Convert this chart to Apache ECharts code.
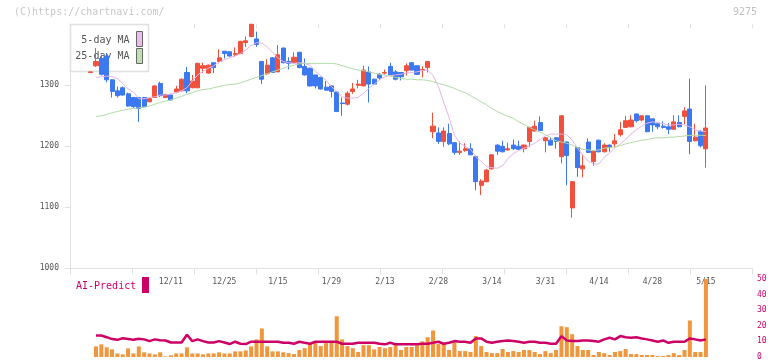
<!DOCTYPE html>
<html><head><meta charset="utf-8">
<script src="https://cdn.jsdelivr.net/npm/echarts@6/dist/echarts.min.js"></script>
<style>html,body{margin:0;padding:0;background:#fff}#c{width:772px;height:361px}</style>
</head><body><div id="c"></div>
<script>
const dates = ['11/20','11/21','11/22','11/25','11/26','11/27','11/28','11/29',
'12/2','12/3','12/4','12/5','12/6','12/9','12/10','12/11','12/12','12/13','12/16','12/17','12/18','12/19','12/20','12/23','12/24','12/25','12/26','12/27','12/30',
'1/6','1/7','1/8','1/9','1/10','1/14','1/15','1/16','1/17','1/20','1/21','1/22','1/23','1/24','1/27','1/28','1/29','1/30','1/31',
'2/3','2/4','2/5','2/6','2/7','2/10','2/12','2/13','2/14','2/17','2/18','2/19','2/20','2/21','2/25','2/26','2/27','2/28',
'3/3','3/4','3/5','3/6','3/7','3/10','3/11','3/12','3/13','3/14','3/17','3/18','3/19','3/21','3/24','3/25','3/26','3/27','3/28','3/31',
'4/1','4/2','4/3','4/4','4/7','4/8','4/9','4/10','4/11','4/14','4/15','4/16','4/17','4/18','4/21','4/22','4/23','4/24','4/25','4/28',
'4/30','5/1','5/2','5/7','5/8','5/9','5/12','5/13','5/14','5/15'];
const dateLabels = ['12/11','12/25','1/15','1/29','2/13','2/28','3/14','3/31','4/14','4/28','5/15'];
const priceTicks = [1000,1100,1200,1300];
// [open, close, low, high]
const ohlc = [
[1321,1322,1321,1322],
[1332,1339,1330,1361],[1344,1318,1316,1350],[1348,1309,1305,1352],[1309,1290,1280,1310],[1291,1283,1280,1298],
[1296,1284,1283,1298],[1286,1266,1265,1288],[1280,1265,1263,1281],[1280,1262,1240,1281],[1280,1265,1264,1281],
[1273,1278,1272,1280],[1280,1299,1279,1300],[1303,1283,1281,1306],[1280,1285,1279,1286],[1284,1276,1275,1285],
[1289,1294,1287,1299],[1291,1310,1290,1311],[1321,1291,1287,1330],[1296,1307,1295,1317],[1296,1336,1295,1337],
[1328,1332,1320,1337],[1320,1333,1319,1334],[1337,1329,1320,1337],[1339,1345,1336,1359],[1356,1352,1344,1356],
[1355,1348,1347,1356],[1350,1352,1347,1362],[1352,1372,1351,1373],[1370,1373,1363,1380],[1380,1400,1379,1401],
[1376,1367,1363,1388],[1339,1310,1302,1340],[1319,1333,1317,1343],[1345,1321,1320,1346],[1322,1350,1322,1366],
[1361,1337,1336,1362],[1339,1336,1326,1346],[1337,1346,1336,1354],[1354,1329,1328,1355],[1331,1317,1316,1344],
[1328,1299,1298,1329],[1317,1299,1295,1317],[1313,1294,1293,1314],[1297,1292,1292,1307],[1299,1290,1280,1300],
[1289,1257,1256,1290],[1271,1270,1250,1280],[1269,1287,1267,1290],[1290,1294,1286,1304],[1300,1302,1295,1309],
[1299,1325,1299,1332],[1322,1302,1272,1331],[1310,1302,1301,1311],[1318,1312,1309,1320],[1320,1321,1317,1326],
[1331,1317,1317,1337],[1322,1310,1308,1325],[1321,1314,1308,1321],[1324,1332,1316,1336],[1337,1325,1324,1338],
[1332,1318,1317,1333],[1325,1326,1313,1331],[1329,1339,1321,1339],[1224,1233,1213,1255],[1222,1208,1204,1231],
[1208,1225,1199,1231],[1221,1204,1202,1237],[1206,1190,1186,1206],[1190,1192,1186,1208],[1193,1196,1191,1205],
[1196,1186,1186,1205],[1183,1142,1128,1184],[1136,1143,1120,1146],[1142,1161,1141,1163],[1163,1186,1162,1187],
[1202,1192,1186,1203],[1200,1191,1190,1209],[1194,1196,1193,1206],[1202,1196,1194,1211],[1200,1195,1194,1209],
[1196,1202,1190,1203],[1208,1231,1199,1232],[1225,1233,1224,1242],[1239,1226,1225,1249],[1209,1214,1190,1215],
[1210,1202,1201,1215],[1214,1208,1196,1215],[1183,1250,1172,1251],[1207,1185,1136,1208],[1099,1142,1083,1143],
[1198,1165,1150,1199],[1163,1168,1149,1187],[1207,1190,1190,1213],[1175,1192,1168,1193],[1210,1191,1190,1211],
[1191,1202,1190,1205],[1202,1198,1191,1203],[1204,1209,1198,1220],[1219,1227,1216,1240],[1231,1242,1230,1250],
[1232,1243,1231,1251],[1253,1242,1239,1254],[1243,1250,1241,1251],[1250,1224,1223,1251],[1245,1235,1224,1245],
[1237,1232,1228,1237],[1233,1231,1229,1241],[1232,1228,1220,1238],[1228,1240,1227,1251],[1239,1232,1231,1251],
[1249,1258,1236,1264],[1261,1208,1187,1311],[1209,1215,1208,1237],[1224,1201,1198,1227],[1196,1230,1165,1300]
];
const ma5 = [null,
1313,1314,1315,1314,1311,1303,1294,1289,1278,1278,1280,1281,1284,1284,1286,
1288,1291,1296,1307,1317,1323,1328,1332,1338,1342,1345,1348,1352,1358,1365,
1370,1369,1363,1354,1345,1339,1337,1336,1337,1336,1333,1323,1316,1308,1298,
1290,1281,1279,1279,1280,1287,1295,1302,1309,1314,1316,1317,1318,1320,1321,
1322,1324,1325,1316,1298,1272,1247,1218,1205,1200,1195,1183,1175,1167,1165,
1164,1168,1180,1188,1193,1197,1201,1205,1211,1217,1220,1220,1220,1219,1210,
1197,1185,1176,1171,1171,1182,1189,1198,1204,1211,1220,1227,1233,1238,1240,
1239,1237,1235,1235,1236,1235,1232,1227,1225,1224];
const ma25 = [null,
1249,1250,1252,1255,1257,1259,1261,1262,1263,1264,1266,1269,1272,1274,1276,
1279,1282,1285,1288,1291,1293,1294,1296,1298,1300,1301,1302,1304,1307,1310,
1313,1316,1319,1322,1325,1328,1331,1333,1335,1336,1336,1336,1336,1336,1336,
1335,1332,1330,1327,1325,1324,1322,1320,1318,1317,1315,1313,1311,1310,1310,
1309,1309,1308,1306,1303,1301,1298,1295,1291,1288,1283,1278,1273,1268,1262,
1257,1253,1249,1246,1240,1236,1231,1227,1223,1219,1214,1209,1207,1205,1202,
1198,1195,1194,1193,1194,1197,1198,1199,1201,1204,1206,1208,1210,1211,1213,
1214,1214,1215,1215,1216,1217,1218,1218,1218,1218];
const volume = [null,
6.8,8.1,6.2,4.9,2.3,1.7,5.5,2.3,6.8,3.0,2.3,1.7,3.0,0.4,1.1,
2.3,2.3,6.2,2.3,2.3,1.7,2.3,2.3,3.0,2.3,2.3,3.6,3.6,4.2,6.8,
11.3,18.3,6.8,3.6,3.6,3.0,2.5,1.9,4.5,5.7,8.3,10.2,7.0,8.9,9.6,
26.1,11.3,7.0,5.7,3.2,7.6,7.6,4.9,6.4,5.7,6.4,7.6,4.5,6.4,6.4,
7.6,10.0,12.7,17.0,8.3,8.3,4.5,9.6,3.8,3.8,3.2,13.4,7.0,3.2,2.5,
2.5,5.1,3.2,3.8,3.2,4.5,4.5,3.2,1.9,3.8,2.5,4.5,19.7,19.1,14.6,
7.0,4.5,4.5,1.3,3.2,2.5,1.3,3.2,3.8,5.1,1.9,1.9,1.3,1.3,1.3,
0.6,0.6,1.3,2.5,1.3,4.5,23.4,3.2,3.2,50];
const aiPredict = [null,
13.8,13.8,12.7,11.5,11.0,12.0,11.5,11.0,11.7,11.3,10.2,11.3,10.8,10.6,9.3,
9.3,9.3,14.3,10.2,11.3,10.2,9.3,9.3,10.2,9.3,8.3,9.8,8.5,8.3,9.8,
9.8,9.8,9.8,9.8,9.8,9.1,9.1,8.5,9.8,9.1,8.5,9.8,9.8,9.8,9.8,
9.8,8.5,8.5,8.5,9.1,9.1,9.1,9.1,8.5,8.1,9.1,8.1,8.1,8.1,8.1,
8.1,8.5,8.5,9.1,9.8,8.5,9.1,10.2,9.8,9.8,9.1,11.9,11.9,9.8,9.1,
9.8,10.2,10.6,10.2,9.8,9.1,9.8,9.8,9.1,9.1,8.5,8.5,13.4,10.6,10.2,
10.2,10.6,10.6,10.2,9.8,11.3,12.3,11.3,13.4,12.7,12.3,12.7,11.9,11.3,10.6,
9.8,10.6,9.1,9.8,9.8,9.8,11.9,11.3,10.6,11.3];

const MONO = "'DejaVu Sans Mono', monospace";
const AXC = '#e0e0e0';
const RED = '#f0503c', BLUE = '#3c78f0';
const W = 5.35, L = 87.975;
const R = 772 - (L + dates.length * W);
const plain = v => String(v);

const chart = echarts.init(document.getElementById('c'), null, {renderer: 'canvas'});
chart.setOption({
  animation: false,
  grid: [
    {left: 70.7, right: 19.7, top: 24.3, bottom: 92.7},
    {left: L, right: R, top: 24.3, bottom: 92.7},
    {left: L, right: R, top: 279, bottom: 3.3}
  ],
  xAxis: [
    {gridIndex: 0, type: 'value', min: 0, max: 11, interval: 1,
     axisLine: {lineStyle: {color: AXC}}, axisTick: {length: 6, lineStyle: {color: AXC}},
     axisLabel: {show: false}, splitLine: {show: false}},
    {gridIndex: 0, type: 'value', min: 0, max: 11, interval: 1,
     axisLine: {show: false}, axisTick: {inside: true, length: 4, lineStyle: {color: AXC}},
     axisLabel: {show: false}, splitLine: {show: false}},
    {gridIndex: 1, type: 'category', data: dates, boundaryGap: true,
     axisLine: {show: false}, axisTick: {show: false}, splitLine: {show: false},
     axisLabel: {interval: (i, v) => dateLabels.includes(v), color: '#555', fontSize: 8,
                 fontFamily: MONO, margin: 9.5}},
    {gridIndex: 2, type: 'category', data: dates, boundaryGap: true, show: false}
  ],
  yAxis: [
    {gridIndex: 0, type: 'value', min: 1000, max: 1400, interval: 100,
     axisLine: {show: true, lineStyle: {color: AXC}},
     axisTick: {show: true, length: 6, customValues: priceTicks, lineStyle: {color: AXC}},
     axisLabel: {customValues: priceTicks, formatter: plain, color: '#555', fontSize: 8, fontFamily: MONO, margin: 11.7},
     splitLine: {show: false}},
    {gridIndex: 0, type: 'value', min: 1000, max: 1400, interval: 100,
     axisLine: {show: false},
     axisTick: {show: true, inside: true, length: 3, customValues: priceTicks, lineStyle: {color: AXC}},
     axisLabel: {show: false}, splitLine: {show: false}},
    {gridIndex: 1, type: 'value', min: 1000, max: 1400, show: false},
    {gridIndex: 2, type: 'value', min: 0, max: 50, interval: 10, position: 'right', offset: 40,
     axisLine: {show: false}, axisTick: {show: false}, splitLine: {show: false},
     axisLabel: {formatter: plain, color: '#cc0066', fontSize: 8, fontFamily: MONO, margin: 8.4}}
  ],
  graphic: [
    {type: 'text', left: 14, top: 7, z: 1, style: {text: '(C)https://chartnavi.com/', fill: '#c8c8c8', font: '10px ' + MONO}},
    {type: 'text', right: 15, top: 7, z: 1, style: {text: '9275', fill: '#c0c0c0', font: '10px ' + MONO}},
    {type: 'rect', z: 1, shape: {x: 70.5, y: 24.5, width: 78, height: 47}, style: {fill: '#fff', stroke: '#e0e0e0', lineWidth: 1.5}},
    {type: 'text', z: 1, x: 129.5, y: 40, style: {text: '5-day MA', fill: '#555', font: '10px ' + MONO, align: 'right', verticalAlign: 'middle'}},
    {type: 'text', z: 1, x: 129.5, y: 56.5, style: {text: '25-day MA', fill: '#555', font: '10px ' + MONO, align: 'right', verticalAlign: 'middle'}},
    {type: 'rect', z: 1, shape: {x: 136.5, y: 31.5, width: 6, height: 15}, style: {fill: '#ebbdeb', stroke: '#666', lineWidth: 1}},
    {type: 'rect', z: 1, shape: {x: 136.5, y: 48.5, width: 6, height: 15}, style: {fill: '#bfe0b3', stroke: '#666', lineWidth: 1}},
    {type: 'text', z: 1, x: 76, y: 286, style: {text: 'AI-Predict', fill: '#cc0066', font: '10px ' + MONO, verticalAlign: 'middle'}},
    {type: 'rect', z: 1, shape: {x: 142, y: 277, width: 7, height: 16}, style: {fill: '#cc0066'}}
  ],
  series: [
    {type: 'candlestick', xAxisIndex: 2, yAxisIndex: 2, data: ohlc, barWidth: 4.6,
     itemStyle: {color: RED, color0: BLUE, borderColor: RED, borderColor0: BLUE, borderColorDoji: RED, borderWidth: 1}},
    {type: 'line', xAxisIndex: 2, yAxisIndex: 2, data: ma5, showSymbol: false, z: 3,
     lineStyle: {color: '#e6b2e6', width: 1}},
    {type: 'line', xAxisIndex: 2, yAxisIndex: 2, data: ma25, showSymbol: false, z: 3,
     lineStyle: {color: '#b2d9a6', width: 1}},
    {type: 'bar', xAxisIndex: 3, yAxisIndex: 3, data: volume, barWidth: 4, itemStyle: {color: '#f0963c'}},
    {type: 'line', xAxisIndex: 3, yAxisIndex: 3, data: aiPredict, showSymbol: false, z: 3,
     lineStyle: {color: '#cc0066', width: 2.5}}
  ]
});
</script>
</body></html>
